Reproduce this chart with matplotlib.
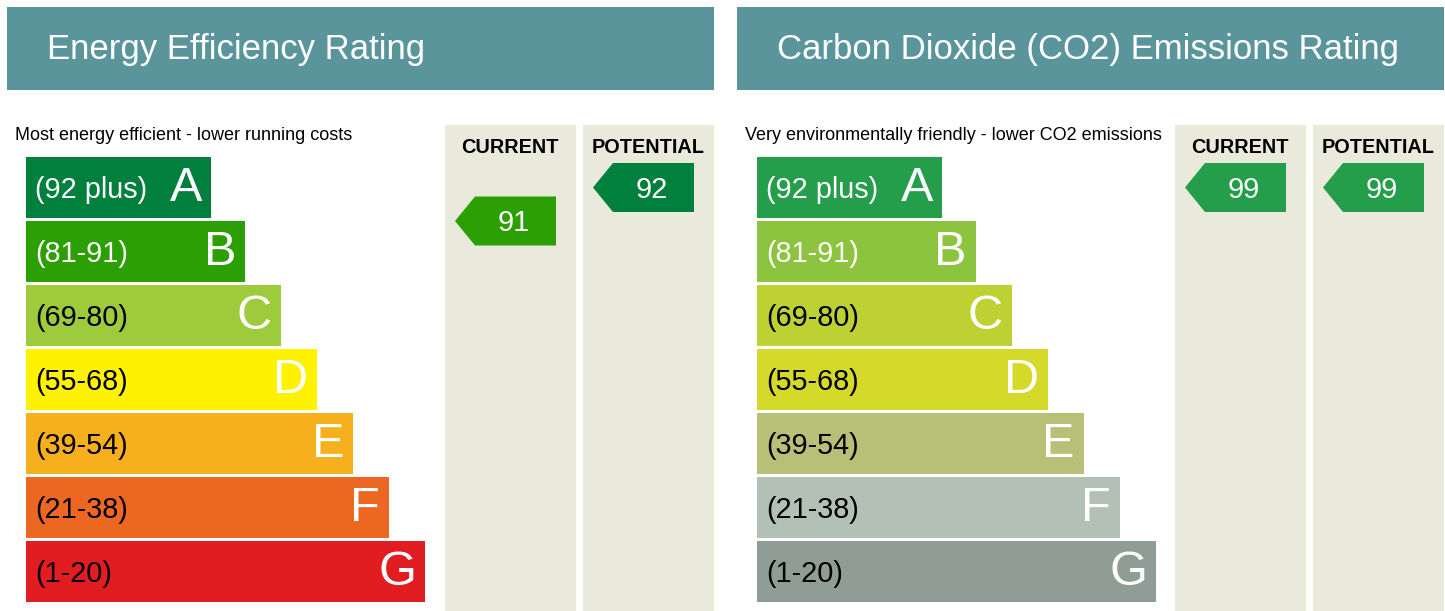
import matplotlib
matplotlib.use("Agg")
import matplotlib.pyplot as plt
from matplotlib.patches import Rectangle, Polygon

plt.rcParams['font.family'] = ['Liberation Sans', 'DejaVu Sans']

# ---- data ----
bands = ["A", "B", "C", "D", "E", "F", "G"]
band_ranges = ["(92 plus)", "(81-91)", "(69-80)", "(55-68)", "(39-54)", "(21-38)", "(1-20)"]
band_low = [92, 81, 69, 55, 39, 21, 1]
band_high = [100, 91, 80, 68, 54, 38, 20]

eer_colors = ["#007f3d", "#2c9f05", "#9dcb3c", "#fff200", "#f6b01e", "#ec6722", "#e11d22"]
eer_range_text = ["white", "white", "black", "black", "black", "black", "black"]
co2_colors = ["#259e4b", "#8cc33f", "#bdd133", "#d4d92a", "#b8bf77", "#b2c0b6", "#909d96"]
co2_range_text = ["white", "white", "black", "black", "black", "black", "black"]

eer_title = "Energy Efficiency Rating"
co2_title = "Carbon Dioxide (CO2) Emissions Rating"
eer_sub = "Most energy efficient - lower running costs"
co2_sub = "Very environmentally friendly - lower CO2 emissions"
col_labels = ["CURRENT", "POTENTIAL"]

eer_current, eer_potential = 91, 92
co2_current, co2_potential = 99, 99

BANNER = "#5b959c"
COLBG = "#e9eadc"

W, H = 1445, 611
fig = plt.figure(figsize=(W / 100, H / 100), dpi=100)
ax = fig.add_axes([0, 0, 1, 1])
ax.set_xlim(0, W)
ax.set_ylim(H, 0)
ax.axis("off")

ROW_TOP0 = 157
PITCH = 64
BAR_H = 61
BAR_W = [185, 219, 255, 291, 327, 363, 399]


def band_index(v):
    for i, (lo, hi) in enumerate(zip(band_low, band_high)):
        if lo <= v <= hi:
            return i
    return len(bands) - 1


def arrow_center(v):
    i = band_index(v)
    top = ROW_TOP0 + i * PITCH
    if i == 0:
        return top + BAR_H / 2
    frac = (band_high[i] - v) / (band_high[i] - band_low[i] + 1)
    return top + frac * PITCH


def panel(x0, bx, title, sub, colors, range_txt, cur, pot):
    # banner
    ax.add_patch(Rectangle((x0 + 7, 7), 707, 83, color=BANNER, lw=0))
    ax.text(x0 + 47, 50, title, color="white", fontsize=25, va="center", ha="left")
    ax.text(x0 + 15, 135.5, sub, color="black", fontsize=13, va="center", ha="left")
    # columns
    col_x = [x0 + 445, x0 + 583]
    for cx, lab in zip(col_x, col_labels):
        ax.add_patch(Rectangle((cx, 125), 131, H - 125, color=COLBG, lw=0))
        ax.text(cx + 65, 147.5, lab, fontsize=14.3, fontweight="bold", ha="center", va="center")
    # bars
    ys = [ROW_TOP0 + i * PITCH + BAR_H / 2 for i in range(len(bands))]
    ax.barh(ys, BAR_W, height=BAR_H, left=bx, color=colors, linewidth=0)
    for y, w, b, r, tc in zip(ys, BAR_W, bands, band_ranges, range_txt):
        ax.text(bx + 9, y + 2, r, color=tc, fontsize=20.8, va="center", ha="left")
        ax.text(bx + w - 9, y + 1, b, color="white", fontsize=35, va="center", ha="right")
    # arrows
    for cx, v in zip(col_x, [cur, pot]):
        c = arrow_center(v)
        col = colors[band_index(v)]
        left = cx + 10
        right = cx + 111
        notch = left + 20
        hh = 24.5
        ax.add_patch(Polygon([(left, c), (notch, c - hh), (right, c - hh), (right, c + hh),
                              (notch, c + hh)], closed=True, color=col, lw=0))
        ax.text((notch + right) / 2 - 1.5, c + 2, str(v), color="white", fontsize=21,
                va="center", ha="center")


panel(0, 26, eer_title, eer_sub, eer_colors, eer_range_text, eer_current, eer_potential)
panel(730, 757, co2_title, co2_sub, co2_colors, co2_range_text, co2_current, co2_potential)

fig.savefig("out.png", dpi=100, facecolor="white")
